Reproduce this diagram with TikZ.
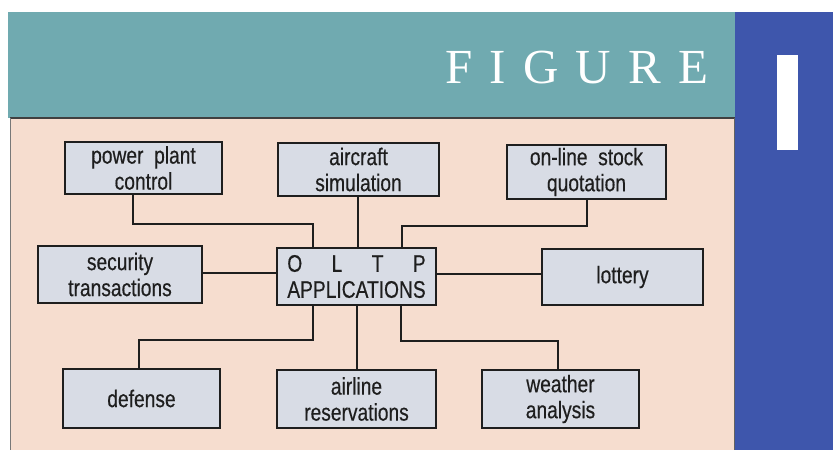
\documentclass[tikz,border=0pt]{standalone}
\usepackage{fontspec}
\newfontfamily\boxfont[FakeStretch=0.8,FakeBold=0.4]{Liberation Sans}
\newfontfamily\titlefont{Liberation Serif}
\definecolor{teal}{RGB}{112,170,176}
\definecolor{panelblue}{RGB}{62,86,172}
\definecolor{peach}{RGB}{246,221,207}
\definecolor{boxfill}{RGB}{216,220,229}
\definecolor{ink}{RGB}{30,30,30}
\newcommand\appbox[6]{%
  \node[app, minimum width={#4-#2}, minimum height={#5-#3}]
    (#1) at ({(#2+#4)/2},{(#3+#5)/2}) {#6};}
\begin{document}
\begin{tikzpicture}[x=1pt,y=-1pt,
  app/.style={draw=ink, line width=2pt, fill=boxfill, inner sep=0pt,
    font=\boxfont\fontsize{24}{26}\selectfont, align=center, text=ink},
  link/.style={draw=ink, line width=1.6pt}]
  % page and coloured panels
  \fill[white] (0,0) rectangle (833,450);
  \useasboundingbox (0,0) rectangle (833,450);
  \fill[teal] (8,12) rectangle (735,118);
  \fill[panelblue] (735,12) rectangle (833,450);
  \fill[white] (777,55) rectangle (798,150);
  \fill[peach] (10,118) rectangle (735,450);
  \draw[ink!85, line width=1.2pt] (10,118) -- (735,118);
  \draw[ink!70, line width=1pt] (734.5,118) -- (734.5,450);
  \draw[ink!60, line width=0.8pt] (10.5,118) -- (10.5,450);
  % title
  \node[anchor=base west, inner sep=0pt, text=white,
    font=\titlefont\fontsize{49}{49}\selectfont] (title) at (445,83)
    {\hbox to 263pt{F\hfill I\hfill G\hfill U\hfill R\hfill E}};
  % application boxes
  \appbox{power}{65}{142}{222}{194}{power\ \ plant\\control}
  \appbox{aircraft}{278}{143}{439}{196}{aircraft\\simulation}
  \appbox{stock}{507}{145}{666}{199}{on-line\ \ stock\\quotation}
  \appbox{security}{38}{246}{202}{303}{security\\transactions}
  \appbox{oltp}{277}{248}{436}{305}{{\setbox0\hbox{APPLICATIONS}\hbox to \wd0{O\hfill L\hfill T\hfill P}}\\APPLICATIONS}
  \appbox{lottery}{542}{249}{703}{305}{lottery}
  \appbox{defense}{63}{369}{220}{428}{defense}
  \appbox{airline}{277}{370}{436}{428}{airline\\reservations}
  \appbox{weather}{482}{370}{639}{428}{weather\\analysis}
  % connectors to the central box
  \draw[link] (power.south -| 133,0) -- ++(0,29) -| (oltp.north -| 313,0);
  \draw[link] (aircraft.south -| 358,0) -- (oltp.north -| 358,0);
  \draw[link] (stock.south -| 587,0) -- ++(0,26) -| (oltp.north -| 402,0);
  \draw[link] (security.east |- 0,273) -- (oltp.west |- 0,273);
  \draw[link] (oltp.east |- 0,274) -- (lottery.west |- 0,274);
  \draw[link] (oltp.south -| 313,0) -- ++(0,34) -| (defense.north -| 139,0);
  \draw[link] (oltp.south -| 357,0) -- (airline.north -| 357,0);
  \draw[link] (oltp.south -| 401,0) -- ++(0,35) -| (weather.north -| 558,0);
\end{tikzpicture}
\end{document}
